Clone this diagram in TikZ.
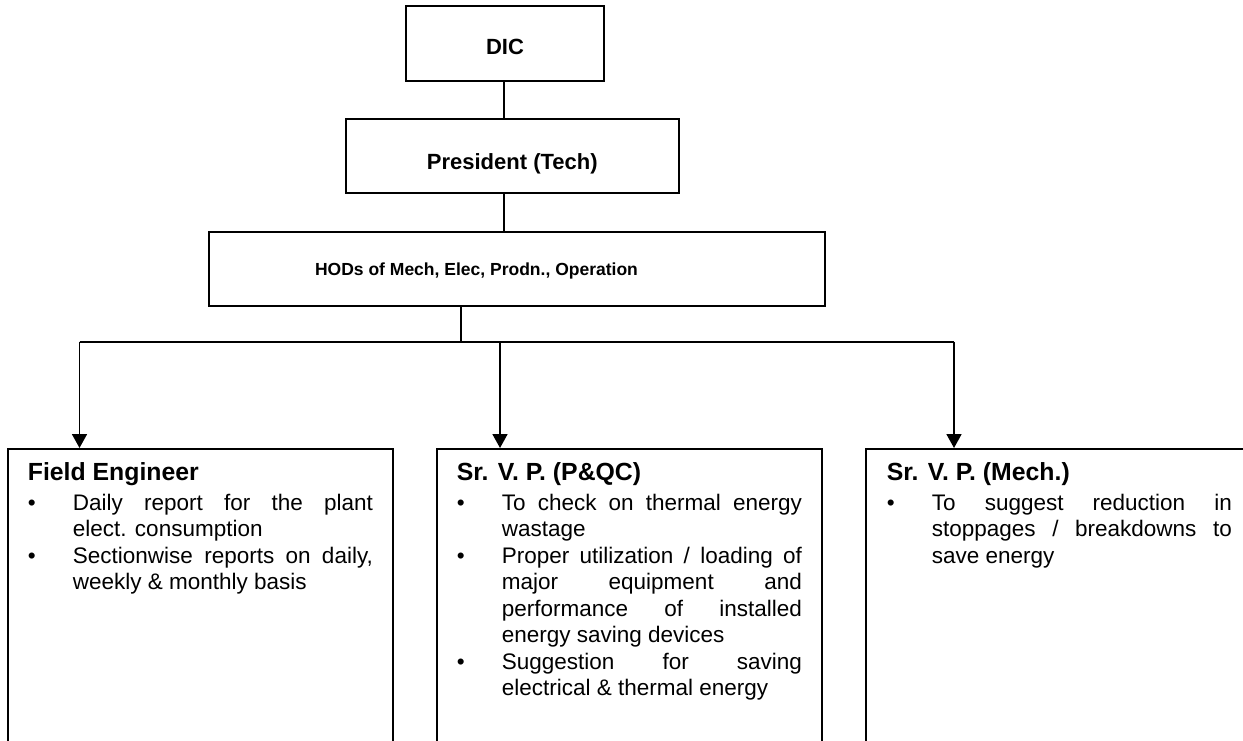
\documentclass[tikz,border=0pt]{standalone}
\usepackage{fontspec}
\setmainfont{Liberation Sans}
\usetikzlibrary{arrows.meta}
\newcommand{\bitem}[1]{\par\noindent\hangindent=45pt\hangafter=1\makebox[45pt][l]{\textbullet}#1}
\newcommand{\rolecontent}[2]{\parbox[t]{345pt}{\fontsize{24.8}{29}\selectfont\bfseries #1\par\vspace{3pt}\fontsize{22.5}{26.5}\selectfont\mdseries\sloppy #2}}
\begin{document}
\begin{tikzpicture}[x=1pt,y=-1pt,line width=1.8pt,
  box/.style={draw,rectangle,inner sep=0pt},
  toptext/.style={font=\fontsize{22}{26}\selectfont\bfseries},
  rolebox/.style={draw,rectangle,inner sep=0pt,anchor=north west},
  roletext/.style={inner sep=0pt,anchor=base west},
  conn/.style={line width=1.8pt},
  arr/.style={conn,-{Triangle[length=14pt,width=15pt]}}]
\useasboundingbox (0,0) rectangle (1243,741);
\clip (0,0) rectangle (1243,741);
\fill[white] (0,0) rectangle (1243,741);

% top boxes
\node[box,toptext,minimum width=198pt,minimum height=75pt,text height=22.2pt,text depth=0pt] (dic) at (505,43.5) {DIC};
\node[box,toptext,minimum width=333.3pt,minimum height=73.4pt,text height=28pt,text depth=0pt] (pres) at (512.3,156) {President (Tech)};
\node[box,minimum width=616pt,minimum height=74pt] (hods) at (517,269) {};
\node[inner sep=0pt,font=\fontsize{17.5}{21}\selectfont\bfseries,anchor=base] (hodstext) at (476.5,275) {HODs of Mech, Elec, Prodn., Operation};

% bottom boxes
\node[rolebox,minimum width=385pt,minimum height=320pt] (fe) at (7,448) {};
\node[rolebox,minimum width=385pt,minimum height=320pt] (pqc) at (436,448) {};
\node[rolebox,minimum width=395pt,minimum height=320pt] (mech) at (865,448) {};

\node[roletext] (fetext) at (27,480.7) {\rolecontent{Field Engineer}{%
\bitem{Daily report for the plant\linebreak elect. consumption}
\bitem{Sectionwise reports on daily,\linebreak weekly \& monthly basis}}};
\node[roletext] (pqctext) at (456,480.7) {\rolecontent{Sr. V. P. (P\&QC)}{%
\bitem{To check on thermal energy\linebreak wastage}
\bitem{Proper utilization / loading of\linebreak major equipment and\linebreak performance of installed\linebreak energy saving devices}
\bitem{Suggestion for saving\linebreak electrical \& thermal energy}}};
\node[roletext] (mechtext) at (886,480.7) {\rolecontent{Sr. V. P. (Mech.)}{%
\bitem{To suggest reduction in\linebreak stoppages / breakdowns to\linebreak save energy}}};

% connectors
\coordinate (jt) at (504,0);
\coordinate (jm) at (461,341.7);
\coordinate (jl) at (79.5,341.7);
\coordinate (jc) at (500,341.7);
\coordinate (jr) at (954,341.7);
\draw[conn] (dic.south -| jt) -- (pres.north -| jt);
\draw[conn] (pres.south -| jt) -- (hods.north -| jt);
\draw[conn] (hods.south -| jm) -- (jm);
\draw[conn] (jl) -- (jr);
\draw[arr] (jl) -- (jl |- fe.north);
\draw[arr] (jc) -- (jc |- pqc.north);
\draw[arr] (jr) -- (jr |- mech.north);
\end{tikzpicture}
\end{document}
